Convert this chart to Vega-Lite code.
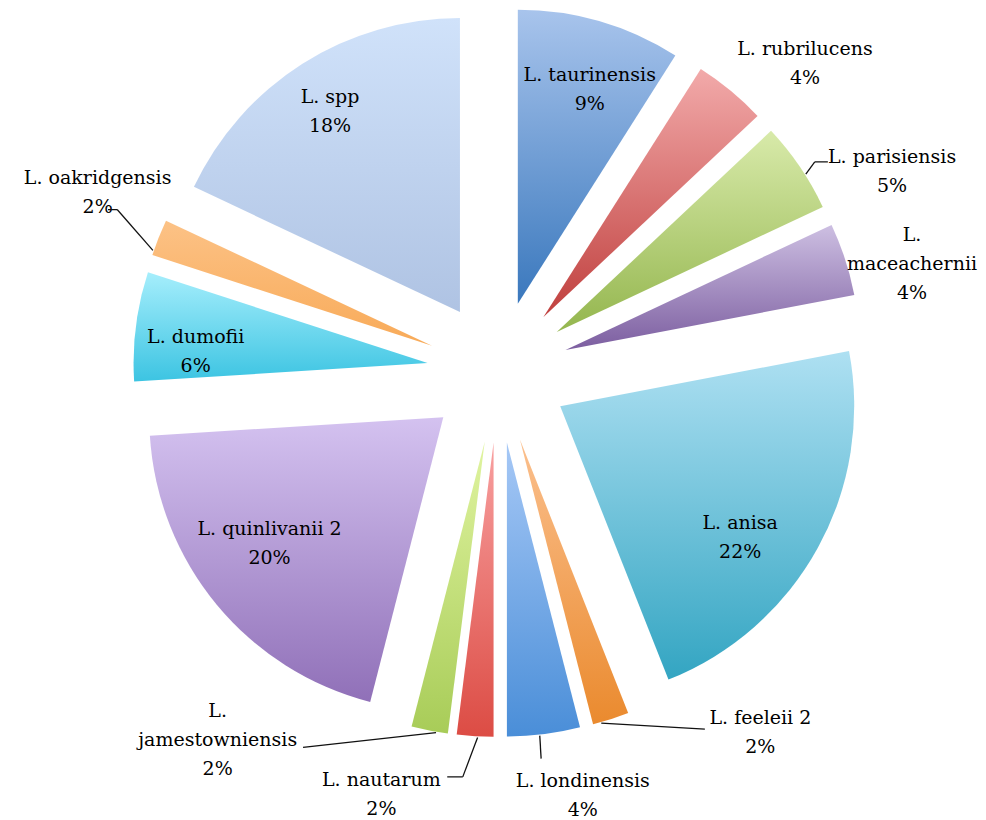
{
  "$schema": "https://vega.github.io/schema/vega-lite/v6.json",
  "width": 976,
  "height": 744,
  "autosize": "none",
  "padding": {"left": 10, "top": 0, "right": 0, "bottom": 76},
  "background": "white",
  "config": {"view": {"stroke": null}},
  "data": {
    "values": [
      {"k": 1, "name": "L. taurinensis", "pct": 9},
      {"k": 2, "name": "L. rubrilucens", "pct": 4},
      {"k": 3, "name": "L. parisiensis", "pct": 5},
      {"k": 4, "name": "L. maceachernii", "pct": 4},
      {"k": 5, "name": "L. anisa", "pct": 22},
      {"k": 6, "name": "L. feeleii 2", "pct": 2},
      {"k": 7, "name": "L. londinensis", "pct": 4},
      {"k": 8, "name": "L. nautarum", "pct": 2},
      {"k": 9, "name": "L. jamestowniensis", "pct": 2},
      {"k": 10, "name": "L. quinlivanii 2", "pct": 20},
      {"k": 11, "name": "L. dumofii", "pct": 6},
      {"k": 12, "name": "L. oakridgensis", "pct": 2},
      {"k": 13, "name": "L. spp", "pct": 18}
    ]
  },
  "transform": [
    {"stack": "pct", "groupby": [], "sort": [{"field": "k", "order": "ascending"}], "as": ["s0", "s1"]}
  ],
  "layer": [
    {
      "mark": {
        "type": "arc",
        "radius": 294,
        "xOffset": {"expr": "71*sin(PI*(datum.s0+datum.s1)/100)"},
        "yOffset": {"expr": "-71*cos(PI*(datum.s0+datum.s1)/100)"}
      },
      "encoding": {
        "theta": {"field": "s0", "type": "quantitative", "stack": null, "scale": {"domain": [0, 100]}},
        "theta2": {"field": "s1"},
        "fill": {
          "condition": [
            {"test": "datum.k == 1", "value": {"gradient": "linear", "x1": 0, "y1": 0, "x2": 0, "y2": 1, "stops": [{"offset": 0, "color": "#a8c4ec"}, {"offset": 1, "color": "#3a78bd"}]}},
            {"test": "datum.k == 2", "value": {"gradient": "linear", "x1": 0, "y1": 0, "x2": 0, "y2": 1, "stops": [{"offset": 0, "color": "#f2aaaa"}, {"offset": 1, "color": "#c0403e"}]}},
            {"test": "datum.k == 3", "value": {"gradient": "linear", "x1": 0, "y1": 0, "x2": 0, "y2": 1, "stops": [{"offset": 0, "color": "#d8eaaa"}, {"offset": 1, "color": "#94b64e"}]}},
            {"test": "datum.k == 4", "value": {"gradient": "linear", "x1": 0, "y1": 0, "x2": 0, "y2": 1, "stops": [{"offset": 0, "color": "#cdbfe2"}, {"offset": 1, "color": "#7c5ea0"}]}},
            {"test": "datum.k == 5", "value": {"gradient": "linear", "x1": 0, "y1": 0, "x2": 0, "y2": 1, "stops": [{"offset": 0, "color": "#aee0f2"}, {"offset": 1, "color": "#33a5c2"}]}},
            {"test": "datum.k == 6", "value": {"gradient": "linear", "x1": 0, "y1": 0, "x2": 0, "y2": 1, "stops": [{"offset": 0, "color": "#fbc08e"}, {"offset": 1, "color": "#ea8a2e"}]}},
            {"test": "datum.k == 7", "value": {"gradient": "linear", "x1": 0, "y1": 0, "x2": 0, "y2": 1, "stops": [{"offset": 0, "color": "#a6c8f6"}, {"offset": 1, "color": "#4a8ed8"}]}},
            {"test": "datum.k == 8", "value": {"gradient": "linear", "x1": 0, "y1": 0, "x2": 0, "y2": 1, "stops": [{"offset": 0, "color": "#f8a0a0"}, {"offset": 1, "color": "#dc4c44"}]}},
            {"test": "datum.k == 9", "value": {"gradient": "linear", "x1": 0, "y1": 0, "x2": 0, "y2": 1, "stops": [{"offset": 0, "color": "#e0f4a0"}, {"offset": 1, "color": "#a8cc58"}]}},
            {"test": "datum.k == 10", "value": {"gradient": "linear", "x1": 0, "y1": 0, "x2": 0, "y2": 1, "stops": [{"offset": 0, "color": "#d4c2f0"}, {"offset": 1, "color": "#9070b8"}]}},
            {"test": "datum.k == 11", "value": {"gradient": "linear", "x1": 0, "y1": 0, "x2": 0, "y2": 1, "stops": [{"offset": 0, "color": "#a6eefc"}, {"offset": 1, "color": "#3cc4e2"}]}},
            {"test": "datum.k == 12", "value": {"gradient": "linear", "x1": 0, "y1": 0, "x2": 0, "y2": 1, "stops": [{"offset": 0, "color": "#fcc286"}, {"offset": 1, "color": "#f8aa58"}]}},
            {"test": "datum.k == 13", "value": {"gradient": "linear", "x1": 0, "y1": 0, "x2": 0, "y2": 1, "stops": [{"offset": 0, "color": "#d0e2fa"}, {"offset": 1, "color": "#afc3e3"}]}}
          ],
          "value": "#999999"
        }
      }
    },
    {
      "mark": {
        "type": "text",
        "font": "DejaVu Serif",
        "fontSize": 19,
        "lineHeight": 29,
        "color": "#000000",
        "align": "center",
        "baseline": "middle",
        "radius": {"expr": "[0,222,362,370,356,225,382,365,373,403,217,232,366,236][datum.k]"},
        "thetaOffset": {"expr": "PI*(datum.s1-datum.s0)/100 + [0,2.7,6.7,9.2,4.7,8.1,-21,-4.8,13.9,30.7,2.8,-5.2,2.4,-1][datum.k]*PI/180"},
        "xOffset": {"expr": "71*sin(PI*(datum.s0+datum.s1)/100)"},
        "yOffset": {"expr": "-71*cos(PI*(datum.s0+datum.s1)/100) - 4"},
        "dy": {"expr": "(datum.k == 4 || datum.k == 9) ? -29 : -14.5"},
        "text": {"expr": "(datum.k == 4 || datum.k == 9) ? [split(datum.name, ' ')[0], split(datum.name, ' ')[1], datum.pct + '%'] : [datum.name, datum.pct + '%']"}
      },
      "encoding": {
        "theta": {"field": "s0", "type": "quantitative", "stack": null}
      }
    },
    {
      "transform": [{"filter": "indexof([3,6,7,8,9,12], datum.k) >= 0"}],
      "mark": {"type": "rule", "color": "#111111", "strokeWidth": 1.3},
      "encoding": {
        "x": {"value": {"expr": "width/2 + 71*sin(PI*(datum.s0+datum.s1)/100) + 295*sin([0,0,0,57.6,0,0,164,173.6,183.1,189.5,0,0,288.9,0][datum.k]*PI/180)"}},
        "y": {"value": {"expr": "height/2 - 71*cos(PI*(datum.s0+datum.s1)/100) - 295*cos([0,0,0,57.6,0,0,164,173.6,183.1,189.5,0,0,288.9,0][datum.k]*PI/180)"}},
        "x2": {"value": {"expr": "width/2 + 71*sin(PI*(datum.s0+datum.s1)/100) + [0,0,0,307,0,0,347,322,339.4,359,0,0,341.5,0][datum.k]*sin([0,0,0,57.2,0,0,147.8,173.9,185.2,210.4,0,0,292.8,0][datum.k]*PI/180)"}},
        "y2": {"value": {"expr": "height/2 - 4 - 71*cos(PI*(datum.s0+datum.s1)/100) - [0,0,0,307,0,0,347,322,339.4,359,0,0,341.5,0][datum.k]*cos([0,0,0,57.2,0,0,147.8,173.9,185.2,210.4,0,0,292.8,0][datum.k]*PI/180)"}}
      }
    },
    {
      "transform": [{"filter": "indexof([3,8,12], datum.k) >= 0"}],
      "mark": {"type": "rule", "color": "#111111", "strokeWidth": 1.3},
      "encoding": {
        "x": {"value": {"expr": "width/2 + 71*sin(PI*(datum.s0+datum.s1)/100) + [0,0,0,307,0,0,0,0,339.4,0,0,0,341.5,0][datum.k]*sin([0,0,0,57.2,0,0,0,0,185.2,0,0,0,292.8,0][datum.k]*PI/180)"}},
        "y": {"value": {"expr": "height/2 - 4 - 71*cos(PI*(datum.s0+datum.s1)/100) - [0,0,0,307,0,0,0,0,339.4,0,0,0,341.5,0][datum.k]*cos([0,0,0,57.2,0,0,0,0,185.2,0,0,0,292.8,0][datum.k]*PI/180)"}},
        "x2": {"value": {"expr": "width/2 + 71*sin(PI*(datum.s0+datum.s1)/100) + [0,0,0,318,0,0,0,0,341.2,0,0,0,349.9,0][datum.k]*sin([0,0,0,58.5,0,0,0,0,187.8,0,0,0,292.2,0][datum.k]*PI/180)"}},
        "y2": {"value": {"expr": "height/2 - 4 - 71*cos(PI*(datum.s0+datum.s1)/100) - [0,0,0,318,0,0,0,0,341.2,0,0,0,349.9,0][datum.k]*cos([0,0,0,58.5,0,0,0,0,187.8,0,0,0,292.2,0][datum.k]*PI/180)"}}
      }
    }
  ]
}
